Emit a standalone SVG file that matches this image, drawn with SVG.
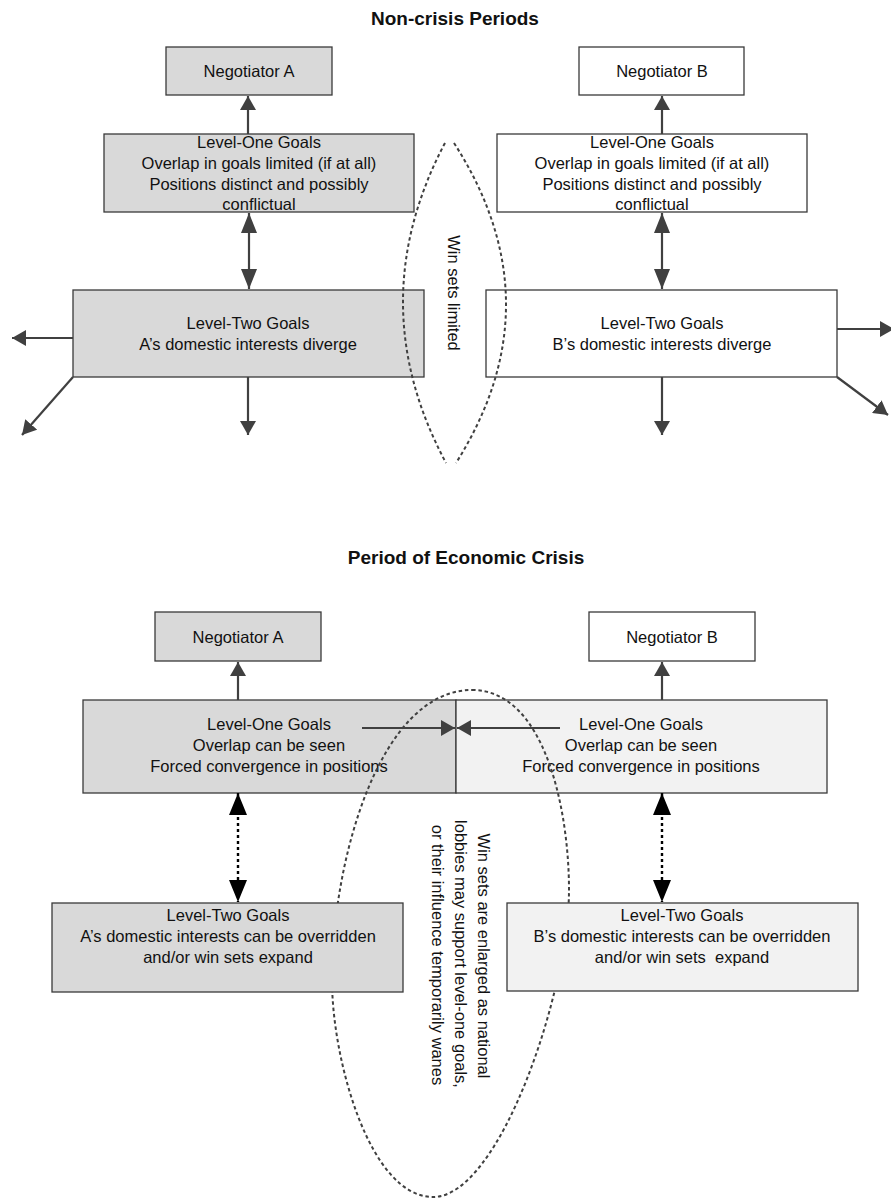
<svg xmlns="http://www.w3.org/2000/svg" width="891" height="1198" viewBox="0 0 891 1198">
<style>
  .bg{fill:#ffffff}
  .box{stroke:#3a3a3a;stroke-width:1.3}
  .ga{fill:#d9d9d9}
  .gw{fill:#ffffff}
  .gl{fill:#f2f2f2}
  .t{font-family:"Liberation Sans",Arial,sans-serif;font-size:16.5px;fill:#111;text-anchor:middle}
  .pre{white-space:pre}
  .title{font-family:"Liberation Sans",Arial,sans-serif;font-size:19px;font-weight:bold;fill:#111;text-anchor:middle}
  .c{stroke:#404040;stroke-width:2.2;fill:none}
  .cd{stroke:#000;stroke-width:2.4;fill:none;stroke-dasharray:3 3}
  .dot{stroke:#404040;stroke-width:2;fill:none;stroke-dasharray:3.5 2.8}
</style>
<defs>
  <marker id="ah" markerUnits="userSpaceOnUse" viewBox="0 0 14 16" refX="14" refY="8" markerWidth="14" markerHeight="16" orient="auto-start-reverse">
    <path d="M0,0 L14,8 L0,16 z" fill="#404040"/>
  </marker>
  <marker id="ahBig" markerUnits="userSpaceOnUse" viewBox="0 0 20 16" refX="20" refY="8" markerWidth="20" markerHeight="16" orient="auto-start-reverse">
    <path d="M0,0 L20,8 L0,16 z" fill="#404040"/>
  </marker>
  <marker id="ahBlk" markerUnits="userSpaceOnUse" viewBox="0 0 22 18" refX="22" refY="9" markerWidth="22" markerHeight="18" orient="auto-start-reverse">
    <path d="M0,0 L22,9 L0,18 z" fill="#000"/>
  </marker>
</defs>
<rect class="bg" x="0" y="0" width="891" height="1198"/>

<text class="title" x="455" y="25">Non-crisis Periods</text>
<text class="title" x="466" y="564">Period of Economic Crisis</text>

<!-- Top section nodes -->
<g id="negA1">
  <rect class="box ga" x="166" y="47" width="166" height="48"/>
  <text class="t" x="249" y="77">Negotiator A</text>
</g>
<g id="negB1">
  <rect class="box gw" x="579" y="47" width="165" height="48"/>
  <text class="t" x="662" y="77">Negotiator B</text>
</g>
<g id="l1A1">
  <rect class="box ga" x="104" y="134" width="310" height="78"/>
  <text class="t" x="259" y="148">Level-One Goals</text>
  <text class="t" x="259" y="169">Overlap in goals limited (if at all)</text>
  <text class="t" x="259" y="190">Positions distinct and possibly</text>
  <text class="t" x="259" y="210">conflictual</text>
</g>
<g id="l1B1">
  <rect class="box gw" x="497" y="134" width="310" height="78"/>
  <text class="t" x="652" y="148">Level-One Goals</text>
  <text class="t" x="652" y="169">Overlap in goals limited (if at all)</text>
  <text class="t" x="652" y="190">Positions distinct and possibly</text>
  <text class="t" x="652" y="210">conflictual</text>
</g>
<g id="l2A1">
  <rect class="box ga" x="73" y="290" width="351" height="87"/>
  <text class="t" x="248" y="329">Level-Two Goals</text>
  <text class="t" x="248" y="350">A’s domestic interests diverge</text>
</g>
<g id="l2B1">
  <rect class="box gw" x="486" y="290" width="351" height="87"/>
  <text class="t" x="662" y="329">Level-Two Goals</text>
  <text class="t" x="662" y="350">B’s domestic interests diverge</text>
</g>
<g id="winLimited">
  <path class="dot" d="M445,143 Q360.5,303 446,463"/>
  <path class="dot" d="M454,143 Q557,303 456,463"/>
  <text class="t" x="0" y="5" transform="translate(453,293) rotate(90)">Win sets limited</text>
</g>

<!-- Bottom section nodes -->
<g id="negA2">
  <rect class="box ga" x="155" y="612" width="166" height="49"/>
  <text class="t" x="238" y="643">Negotiator A</text>
</g>
<g id="negB2">
  <rect class="box gw" x="589" y="612" width="166" height="49"/>
  <text class="t" x="672" y="643">Negotiator B</text>
</g>
<g id="l1A2">
  <rect class="box ga" x="83" y="700" width="373" height="93"/>
  <text class="t" x="269" y="730">Level-One Goals</text>
  <text class="t" x="269" y="751">Overlap can be seen</text>
  <text class="t" x="269" y="772">Forced convergence in positions</text>
</g>
<g id="l1B2">
  <rect class="box gl" x="456" y="700" width="371" height="93"/>
  <text class="t" x="641" y="730">Level-One Goals</text>
  <text class="t" x="641" y="751">Overlap can be seen</text>
  <text class="t" x="641" y="772">Forced convergence in positions</text>
</g>
<g id="winEnlarged">
  <path class="dot" d="M472,690 C545,690 569,810 569,890 C569,990 500,1197 433,1197 C370,1197 332,1060 332,980 C332,860 380,690 472,690 Z"/>
  <text class="t" x="0" y="5" transform="translate(483,956) rotate(90)">Win sets are enlarged as national</text>
  <text class="t" x="0" y="5" transform="translate(460,954) rotate(90)">lobbies may support level-one goals,</text>
  <text class="t" x="0" y="5" transform="translate(437,955) rotate(90)">or their influence temporarily wanes</text>
</g>
<g id="l2A2">
  <rect class="box ga" x="52" y="903" width="351" height="89"/>
  <text class="t" x="228" y="921">Level-Two Goals</text>
  <text class="t" x="228" y="942">A’s domestic interests can be overridden</text>
  <text class="t" x="228" y="963">and/or win sets expand</text>
</g>
<g id="l2B2">
  <rect class="box gl" x="507" y="903" width="351" height="88"/>
  <text class="t" x="682" y="921">Level-Two Goals</text>
  <text class="t" x="682" y="942">B’s domestic interests can be overridden</text>
  <text class="t pre" x="682" y="963">and/or win sets  expand</text>
</g>

<!-- Connectors -->
<g id="connectors">
  <line class="c" x1="248" y1="134" x2="248" y2="96" marker-end="url(#ah)"/>
  <line class="c" x1="662" y1="134" x2="662" y2="96" marker-end="url(#ah)"/>
  <line class="c" x1="249" y1="213" x2="249" y2="289" marker-start="url(#ahBig)" marker-end="url(#ahBig)"/>
  <line class="c" x1="662" y1="213" x2="662" y2="289" marker-start="url(#ahBig)" marker-end="url(#ahBig)"/>
  <line class="c" x1="73" y1="338" x2="12" y2="338" marker-end="url(#ah)"/>
  <line class="c" x1="73" y1="377" x2="22" y2="435" marker-end="url(#ah)"/>
  <line class="c" x1="248" y1="377" x2="248" y2="435" marker-end="url(#ah)"/>
  <line class="c" x1="837" y1="329" x2="894" y2="329" marker-end="url(#ah)"/>
  <line class="c" x1="837" y1="377" x2="888" y2="415" marker-end="url(#ah)"/>
  <line class="c" x1="662" y1="377" x2="662" y2="435" marker-end="url(#ah)"/>
  <line class="c" x1="238" y1="700" x2="238" y2="662" marker-end="url(#ah)"/>
  <line class="c" x1="662" y1="700" x2="662" y2="662" marker-end="url(#ah)"/>
  <line class="c" x1="362" y1="728" x2="455" y2="728" marker-end="url(#ah)"/>
  <line class="c" x1="560" y1="728" x2="457" y2="728" marker-end="url(#ah)"/>
  <line class="cd" x1="238" y1="793" x2="238" y2="902" marker-start="url(#ahBlk)" marker-end="url(#ahBlk)"/>
  <line class="cd" x1="662" y1="793" x2="662" y2="902" marker-start="url(#ahBlk)" marker-end="url(#ahBlk)"/>
</g>
</svg>
